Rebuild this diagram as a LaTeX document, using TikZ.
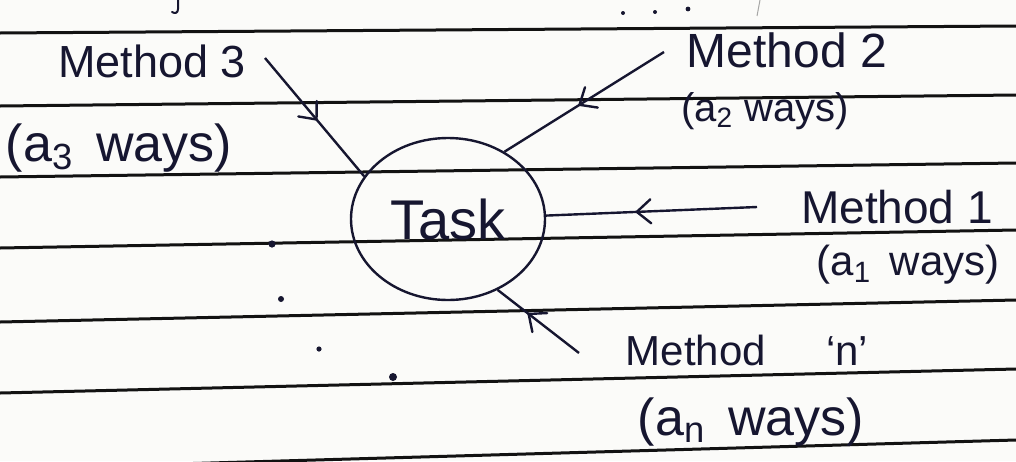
\documentclass[tikz,border=0pt]{standalone}
\usepackage{fontspec}
\setmainfont{Liberation Sans}
\usetikzlibrary{shapes.geometric,decorations.markings}
\definecolor{paper}{RGB}{251,251,249}
\definecolor{ink}{RGB}{22,22,48}
\definecolor{rulecol}{RGB}{18,18,18}
\tikzset{
  ruling/.style={draw=rulecol, line width=1.5pt},
  conn/.style={draw=ink, line width=1.2pt},
  barb/.style={postaction={decorate},
    decoration={markings, mark=at position #1 with {
      \draw[ink, line width=1.2pt, line cap=round] (-7pt,6pt) -- (0,0) -- (-7pt,-6pt);}}},
  lbl/.style={text=ink, inner sep=0pt},
  speck/.style={fill=ink, draw=none},
}
\newcommand{\fs}[1]{\fontsize{#1}{#1}\selectfont}
\begin{document}
\begin{tikzpicture}[x=0.5pt,y=-0.5pt]
\useasboundingbox (0,0) rectangle (1016,461);
\fill[paper] (0,0) rectangle (1016,461);

% ruled notebook lines
\begin{scope}
  \clip (0,0) rectangle (1016,461);
  \draw[ruling] (0,33)  -- (1016,26);
  \draw[ruling] (0,106) -- (1016,95);
  \draw[ruling] (0,177) -- (1016,163);
  \draw[ruling] (0,248) -- (1016,230);
  \draw[ruling] (0,322) -- (1016,300);
  \draw[ruling] (0,393) -- (1016,369);
  \draw[ruling] (0,469) -- (1016,440);
\end{scope}

% marks left from the line above
\draw[ink, line width=1pt, line cap=round] (178,0) -- (178,9) .. controls (178,13) and (175,14) .. (172,12);
\fill[speck] (623,13) circle (1pt);
\fill[speck] (655,12) circle (1pt);
\fill[speck] (688,9) circle (1.2pt);
\draw[gray!70, line width=0.5pt] (760,0) -- (757,16);

% stray ink dots
\fill[speck] (272,244) circle (1.8pt);
\fill[speck] (281,299) circle (1.5pt);
\fill[speck] (319,349) circle (1.3pt);
\fill[speck] (393,377) circle (2pt);

% central task
\node[draw=ink, line width=1.2pt, ellipse, minimum width=97pt, minimum height=81pt,
      inner sep=0pt, text=ink, font=\fs{28}] (task) at (448,219) {Task};

% free ends of the connectors
\coordinate (m3) at (265,58);
\coordinate (m2) at (664,52);
\coordinate (m1) at (757,207);
\coordinate (mn) at (579,353);

\draw[conn, barb=0.52] (m3) -- (task.153);
\draw[conn, barb=0.53] (m2) -- (task.50);
\draw[conn, barb=0.57] (m1) -- (task.2);
\draw[conn, barb=0.62] (mn) -- (task.-55);

% labels
\node[lbl, font=\fs{22.5}] (t3) at (152,61) {Method 3};
\node[lbl, font=\fs{26}] (w3) at (119,148) {(a\textsubscript{3}\, ways)};
\node[lbl, font=\fs{24}] (t2) at (787,50) {Method 2};
\node[lbl, font=\fs{20}] (w2) at (765,111) {(a\textsubscript{2} ways)};
\node[lbl, font=\fs{23}] (t1) at (897,207) {Method 1};
\node[lbl, font=\fs{21}] (w1) at (908,265) {(a\textsubscript{1}\, ways)};
\node[lbl, font=\fs{21}] (tn) at (747,350) {Method\hspace{30pt}`n'};
\node[lbl, font=\fs{26}] (wn) at (751,422) {(a\textsubscript{n}\, ways)};
\end{tikzpicture}
\end{document}
